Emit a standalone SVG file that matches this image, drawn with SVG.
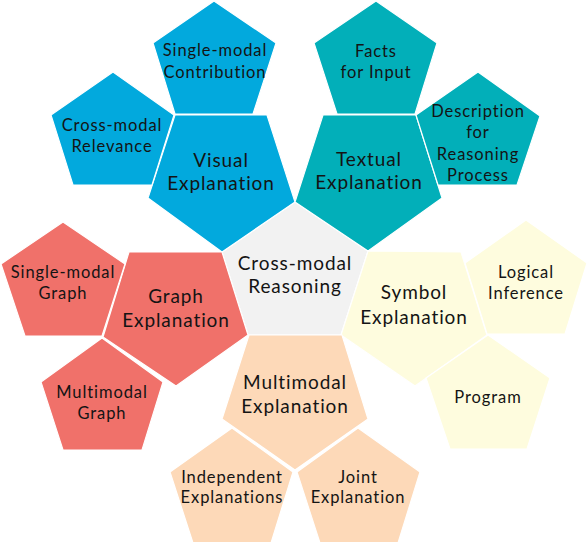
<svg xmlns="http://www.w3.org/2000/svg" width="588" height="542" viewBox="0 0 588 542">
<style>
polygon{stroke:#ffffff;stroke-width:1.2;stroke-linejoin:miter}
.blue{fill:#02A9DD}
.teal{fill:#02AFB9}
.red{fill:#F0716A}
.yel{fill:#FEFCDE}
.peach{fill:#FDD9B8}
.gray{fill:#F2F2F2}
text{font-family:Lato,"Noto Sans",sans-serif;fill:#141414;text-anchor:middle}
.m{font-size:19px;letter-spacing:0.9px}
.s{font-size:16.5px;letter-spacing:0.9px}
</style>
<rect width="588" height="542" fill="#ffffff"/>
<g id="connectors"/>
<g id="cross-modal-reasoning">
<polygon class="gray" points="295,202 368,251 341,335 248,335 222,252"/>
<text class="m" x="295" y="270">Cross-modal</text>
<text class="m" x="295" y="293">Reasoning</text>
</g>
<g id="visual-explanation">
<polygon class="blue" points="175,115 267,115 295,202 222,252 148,198"/>
<text class="m" x="221" y="167">Visual</text>
<text class="m" x="221" y="190">Explanation</text>
</g>
<g id="single-modal-contribution">
<polygon class="blue" points="214,1 276,43 253,114 175,114 153,43"/>
<text class="s" x="215" y="56">Single-modal</text>
<text class="s" x="215" y="78">Contribution</text>
</g>
<g id="cross-modal-relevance">
<polygon class="blue" points="113,72 174,115 152,185 73,185 51,115"/>
<text class="s" x="112" y="131">Cross-modal</text>
<text class="s" x="112" y="152">Relevance</text>
</g>
<g id="textual-explanation">
<polygon class="teal" points="323,115 416,115 442,198 368,251 295,202"/>
<text class="m" x="369" y="166">Textual</text>
<text class="m" x="369" y="189">Explanation</text>
</g>
<g id="facts-for-input">
<polygon class="teal" points="376,1 437,43 415,114 337,114 314,43"/>
<text class="s" x="376" y="57">Facts</text>
<text class="s" x="376" y="78">for Input</text>
</g>
<g id="description-for-reasoning-process">
<polygon class="teal" points="478,72 540,116 517,185 438,185 416,115"/>
<text class="s" x="478" y="117">Description</text>
<text class="s" x="478" y="138">for</text>
<text class="s" x="478" y="160">Reasoning</text>
<text class="s" x="478" y="181">Process</text>
</g>
<g id="graph-explanation">
<polygon class="red" points="129,252 222,252 248,335 176,386 103,337"/>
<text class="m" x="176" y="303">Graph</text>
<text class="m" x="176" y="327">Explanation</text>
</g>
<g id="single-modal-graph">
<polygon class="red" points="63,222 125,264 102,336 25,336 1,264"/>
<text class="s" x="63" y="278">Single-modal</text>
<text class="s" x="63" y="299">Graph</text>
</g>
<g id="multimodal-graph">
<polygon class="red" points="102,338 163,382 142,450 63,450 41,382"/>
<text class="s" x="102" y="398">Multimodal</text>
<text class="s" x="102" y="419">Graph</text>
</g>
<g id="symbol-explanation">
<polygon class="yel" points="368,251 461,252 487,335 415,386 341,335"/>
<text class="m" x="414" y="299">Symbol</text>
<text class="m" x="414" y="324">Explanation</text>
</g>
<g id="logical-inference">
<polygon class="yel" points="526,220 587,263 565,334 487,334 465,263"/>
<text class="s" x="526" y="278">Logical</text>
<text class="s" x="526" y="299">Inference</text>
</g>
<g id="program">
<polygon class="yel" points="488,335 550,378 527,449 450,449 426,378"/>
<text class="s" x="488" y="403">Program</text>
</g>
<g id="multimodal-explanation">
<polygon class="peach" points="249,335 342,335 368,419 295,470 222,419"/>
<text class="m" x="295" y="389">Multimodal</text>
<text class="m" x="295" y="413">Explanation</text>
</g>
<g id="independent-explanations">
<polygon class="peach" points="232,428 293,472 271,543 193,543 170,472"/>
<text class="s" x="232" y="483">Independent</text>
<text class="s" x="232" y="503">Explanations</text>
</g>
<g id="joint-explanation">
<polygon class="peach" points="358,428 420,472 398,543 320,543 297,472"/>
<text class="s" x="358" y="483">Joint</text>
<text class="s" x="358" y="503">Explanation</text>
</g>
</svg>
